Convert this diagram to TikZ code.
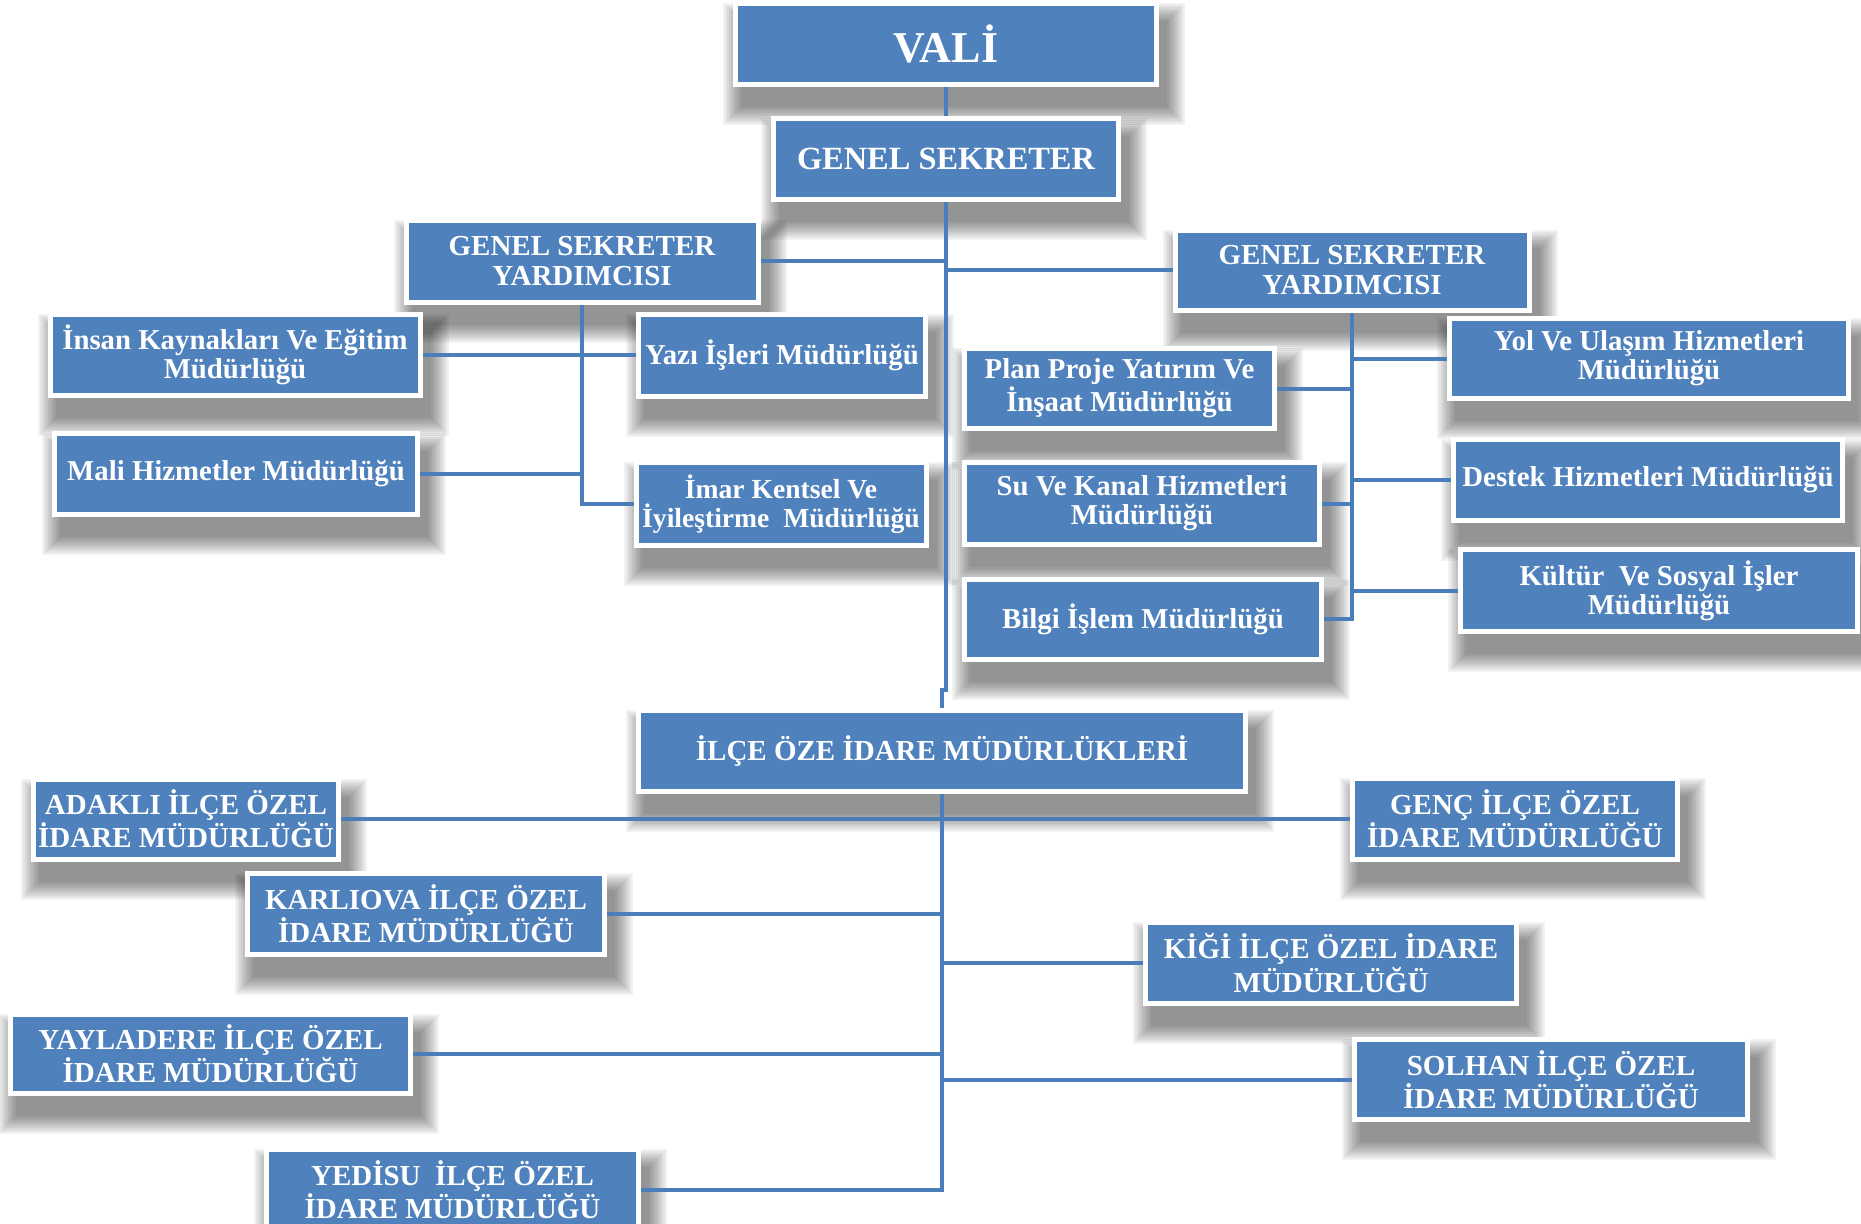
\documentclass[tikz,border=0pt]{standalone}
\usepackage{fontspec}
\setmainfont{Liberation Serif}
\usetikzlibrary{backgrounds}
\definecolor{boxblue}{HTML}{4F81BD}
\definecolor{lineblue}{HTML}{4A7EBB}
\newcommand\boxshade[1]{%
  \foreach \dd in {0,2,...,18}{%
    \fill[black,opacity=0.05] ([shift={(8-\dd,20-\dd)}]#1.north west) rectangle ([shift={(8+\dd,20+\dd)}]#1.south east);}}
\tikzset{
  org/.style={rectangle, fill=boxblue, draw=white, line width=2.5pt, text=white,
    font=\bfseries\fontsize{14.4}{14.6}\selectfont, align=center, inner sep=0pt},
  caps/.style={font=\bfseries\fontsize{14.5}{14.6}\selectfont},
  sz/.style 2 args={minimum width=#1*0.5pt+2.5pt, minimum height=#2*0.5pt+2.5pt},
  link/.style={draw=lineblue, line width=2pt},
}
\begin{document}
\begin{tikzpicture}[x=0.5pt,y=-0.5pt]
\useasboundingbox (0,0) rectangle (1861,1223);
% nodes
\node[org, sz={416}{76}, font=\bfseries\fontsize{22}{23}\selectfont] (vali) at (946,44) {VALİ};
\node[org, sz={340}{76}, font=\bfseries\fontsize{16.2}{17}\selectfont] (gs) at (946,159) {GENEL SEKRETER};
\node[org, caps, sz={347}{77}] (gsyl) at (582,261) {GENEL SEKRETER\\YARDIMCISI};
\node[org, caps, sz={349}{75}] (gsyr) at (1352,270) {GENEL SEKRETER\\YARDIMCISI};
\node[org, sz={365}{76}] (insan) at (235,355) {İnsan Kaynakları Ve Eğitim\\Müdürlüğü};
\node[org, sz={358}{76}] (mali) at (236,474) {Mali Hizmetler Müdürlüğü};
\node[org, sz={282}{77}] (yazi) at (782,355) {Yazı İşleri Müdürlüğü};
\node[org, sz={285}{78}, font=\bfseries\fontsize{13.8}{14.6}\selectfont] (imar) at (781,504) {İmar Kentsel Ve\\İyileştirme\ \ Müdürlüğü};
\node[org, sz={305}{75}] (plan) at (1119.5,388.5) {Plan Proje Yatırım Ve\\İnşaat Müdürlüğü};
\node[org, sz={350}{77}] (su) at (1142,503.5) {Su Ve Kanal Hizmetleri\\Müdürlüğü};
\node[org, sz={352}{75}] (bilgi) at (1143,619) {Bilgi İşlem Müdürlüğü};
\node[org, sz={394}{75}] (yol) at (1649,358.5) {Yol Ve Ulaşım Hizmetleri\\Müdürlüğü};
\node[org, sz={384}{76}] (destek) at (1648,480) {Destek Hizmetleri\ Müdürlüğü};
\node[org, sz={392}{77}] (kultur) at (1659,590.5) {Kültür\ \ Ve Sosyal İşler\\Müdürlüğü};
\node[org, caps, sz={602}{76}] (ilce) at (942,751) {İLÇE ÖZE İDARE MÜDÜRLÜKLERİ};
\node[org, caps, sz={300}{75}] (adakli) at (186,819) {ADAKLI İLÇE ÖZEL\\İDARE MÜDÜRLÜĞÜ};
\node[org, caps, sz={320}{76}] (genc) at (1515,819) {GENÇ İLÇE ÖZEL\\İDARE MÜDÜRLÜĞÜ};
\node[org, caps, sz={352}{76}] (karliova) at (426,914) {KARLIOVA İLÇE ÖZEL\\İDARE MÜDÜRLÜĞÜ};
\node[org, caps, sz={366}{76}] (kigi) at (1331,963) {KİĞİ İLÇE ÖZEL İDARE\\MÜDÜRLÜĞÜ};
\node[org, caps, sz={395}{74}] (yaylad) at (210.5,1054) {YAYLADERE İLÇE ÖZEL\\İDARE MÜDÜRLÜĞÜ};
\node[org, caps, sz={388}{75}] (solhan) at (1551,1079.5) {SOLHAN İLÇE ÖZEL\\İDARE MÜDÜRLÜĞÜ};
\node[org, caps, sz={367}{76}] (yedisu) at (452.5,1190) {YEDİSU\ \ İLÇE ÖZEL\\İDARE MÜDÜRLÜĞÜ};
% shadows
\begin{pgfonlayer}{background}
\fill[white] (0,0) rectangle (1861,1223);
\foreach \nn in {vali,gs,gsyl,gsyr,insan,mali,yazi,imar,plan,su,bilgi,yol,destek,kultur,ilce,adakli,genc,karliova,kigi,yaylad,solhan,yedisu}{\boxshade{\nn}}
\end{pgfonlayer}
% connectors
\draw[link] (vali.south) -- (gs.north);
\draw[link] (gs.south) -- ++(0,488) -| (ilce.north);
\draw[link] (gsyl.east) -- (gsyl.east -| gs.south);
\draw[link] (gsyr.west) -- (gsyr.west -| gs.south);
\draw[link] (gsyl.south) |- (imar.west);
\draw[link] (insan.east) -- (yazi.west);
\draw[link] (mali.east) -- (mali.east -| gsyl.south);
\draw[link] (gsyr.south) |- (bilgi.east);
\draw[link] (yol.west) -- (yol.west -| gsyr.south);
\draw[link] (plan.east) -- (plan.east -| gsyr.south);
\draw[link] (destek.west) -- (destek.west -| gsyr.south);
\draw[link] (su.east) -- (su.east -| gsyr.south);
\draw[link] (kultur.west) -- (kultur.west -| gsyr.south);
\draw[link] (ilce.south) |- (yedisu.east);
\draw[link] (adakli.east) -- (genc.west);
\draw[link] (karliova.east) -- (karliova.east -| ilce.south);
\draw[link] (kigi.west) -- (kigi.west -| ilce.south);
\draw[link] (yaylad.east) -- (yaylad.east -| ilce.south);
\draw[link] (solhan.west) -- (solhan.west -| ilce.south);
\end{tikzpicture}
\end{document}
